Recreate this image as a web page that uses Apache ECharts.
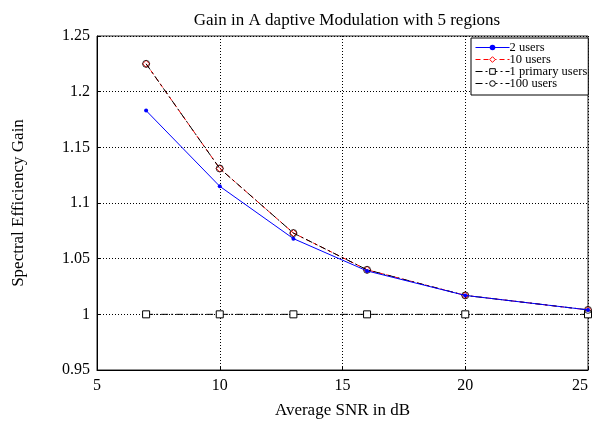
<!DOCTYPE html>
<html><head><meta charset="utf-8">
<script src="https://cdn.jsdelivr.net/npm/echarts@6/dist/echarts.min.js"></script>
<style>html,body{margin:0;padding:0;background:#fff}#c{width:592px;height:424px}</style>
</head><body><div id="c"></div>
<script>
var snr = [7, 10, 13, 16, 20, 25];
var users2 = [1.183, 1.115, 1.068, 1.039, 1.017, 1.004];
var users10 = [1.225, 1.131, 1.073, 1.040, 1.017, 1.004];
var primary1 = [1, 1, 1, 1, 1, 1];
var users100 = [1.225, 1.131, 1.073, 1.040, 1.017, 1.004];
var seriesNames = ['2 users', '10 users', '1 primary users', '100 users'];

function pairs(ys){ return snr.map(function(x,i){ return [x, ys[i]]; }); }
var serif = 'Liberation Serif, Times New Roman, serif';
var dashDot = [7, 3, 2, 3];

var chart = echarts.init(document.getElementById('c'), null, {renderer:'canvas'});
chart.setOption({
  animation: false,
  backgroundColor: '#fff',
  title: {
    text: 'Gain in A daptive Modulation with 5 regions',
    left: 342, top: 7, textAlign: 'center',
    textStyle: {fontFamily: serif, fontSize: 17, fontWeight: 'normal', color: '#000'}
  },
  grid: {left: 97, right: 4, top: 36, bottom: 54, show: true, borderColor: '#222', borderWidth: 1,
         backgroundColor: 'transparent', containLabel: false, outerBoundsMode: 'none'},
  legend: {
    orient: 'vertical', left: 471, top: 38,
    data: [
      {name: seriesNames[0]},
      {name: seriesNames[1], itemStyle: {color: '#fff', borderColor: '#ff0000', borderWidth: 1}},
      {name: seriesNames[2], itemStyle: {color: '#fff', borderColor: '#000', borderWidth: 1}},
      {name: seriesNames[3], itemStyle: {color: '#fff', borderColor: '#000', borderWidth: 1}}
    ],
    itemWidth: 34, itemHeight: 7, itemGap: -1,
    padding: [3, 1, 5, 4],
    borderColor: '#000', borderWidth: 1, backgroundColor: '#fff',
    lineStyle: {width: 1},
    textStyle: {fontFamily: serif, fontSize: 12.5, color: '#000', padding: [0,0,0,-5]}
  },
  xAxis: {
    type: 'value', min: 5, max: 25, interval: 5,
    name: 'Average SNR in dB', nameLocation: 'middle', nameGap: 32,
    nameTextStyle: {fontFamily: serif, fontSize: 17, color: '#000'},
    axisLine: {show: true, lineStyle: {color: '#000'}},
    axisTick: {show: true, inside: true, length: 4, lineStyle: {color: '#000'}},
    axisLabel: {fontFamily: serif, fontSize: 16, color: '#000', margin: 8, alignMaxLabel: 'right'},
    splitLine: {show: true, lineStyle: {color: '#000', type: [1, 2], width: 1}}
  },
  yAxis: {
    type: 'value', min: 0.95, max: 1.25, interval: 0.05,
    name: 'Spectral Efficiency Gain', nameLocation: 'middle', nameGap: 70,
    nameTextStyle: {fontFamily: serif, fontSize: 17, color: '#000'},
    axisLine: {show: true, lineStyle: {color: '#000'}},
    axisTick: {show: true, inside: true, length: 4, lineStyle: {color: '#000'}},
    axisLabel: {fontFamily: serif, fontSize: 16, color: '#000', margin: 7, padding: [6,0,0,0],
      formatter: function(v){ return String(parseFloat(v.toFixed(2))); }},
    splitLine: {show: true, lineStyle: {color: '#000', type: [1, 2], width: 1}}
  },
  series: [
    {name: seriesNames[0], type: 'line', data: pairs(users2), symbol: 'circle', symbolSize: 4,
     itemStyle: {color: '#0000ff'}, lineStyle: {color: '#0000ff', width: 1}, z: 5},
    {name: seriesNames[1], type: 'line', data: pairs(users10), symbol: 'diamond', symbolSize: 7,
     itemStyle: {color: 'transparent', borderColor: '#ff0000', borderWidth: 1},
     lineStyle: {color: '#ff0000', width: 1, type: [5, 3]}, z: 3},
    {name: seriesNames[2], type: 'line', data: pairs(primary1), symbol: 'rect', symbolSize: 7,
     itemStyle: {color: '#fff', borderColor: '#000', borderWidth: 1},
     lineStyle: {color: '#000', width: 1, type: dashDot}, z: 4},
    {name: seriesNames[3], type: 'line', data: pairs(users100), symbol: 'circle', symbolSize: 7,
     itemStyle: {color: 'transparent', borderColor: '#000', borderWidth: 0.8},
     lineStyle: {color: '#000', width: 1, type: dashDot}, z: 4}
  ]
});
</script></body></html>
